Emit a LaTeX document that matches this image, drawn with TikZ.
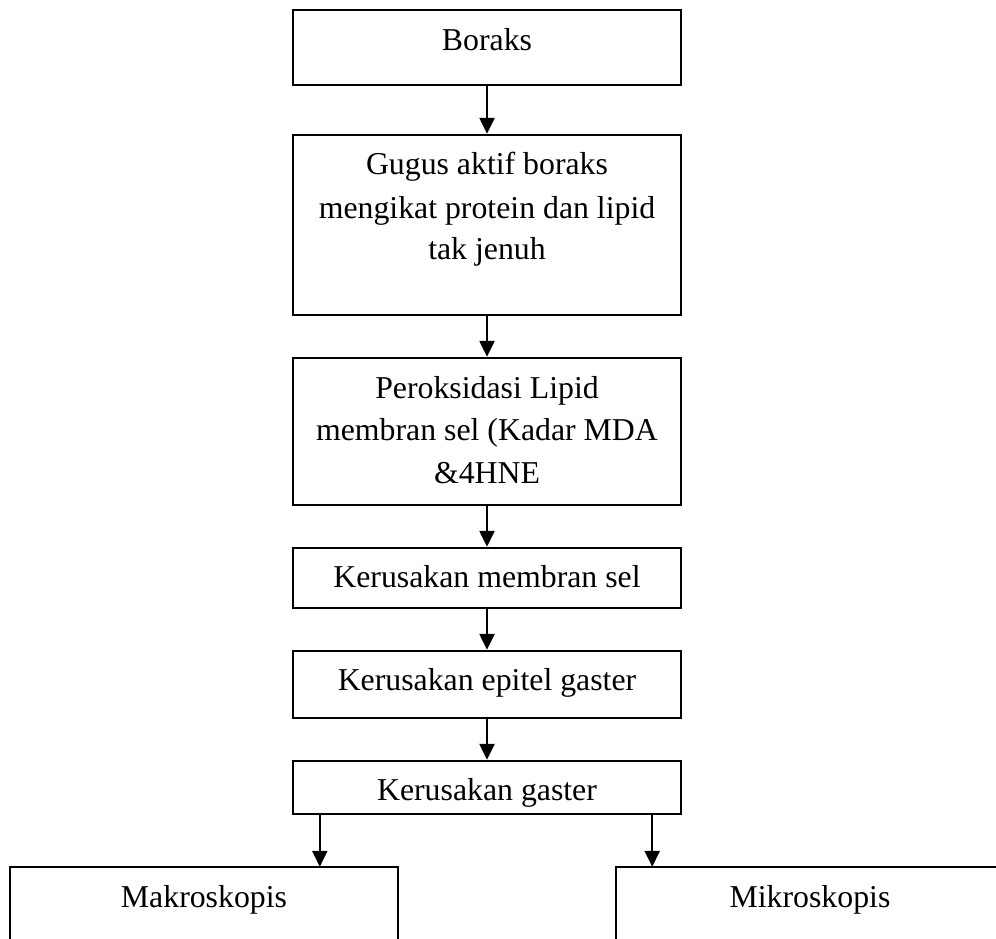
\documentclass[tikz,border=0pt]{standalone}
\usepackage{fontspec}
\setmainfont{Liberation Serif}
\usetikzlibrary{arrows.meta}
\begin{document}
\begin{tikzpicture}[x=1pt,y=-1pt,
  box/.style={draw=black, line width=2.4pt, inner sep=0pt, minimum width=388pt},
  txt/.style={font=\fontsize{31.8}{42.5}\selectfont, inner sep=0pt, align=center, anchor=base},
  arr/.style={line width=2.4pt, -{Triangle[length=16pt,width=15pt]}}]
\useasboundingbox (0,0) rectangle (996,939);
\clip (0,0) rectangle (996,939);
\node[box, minimum height=75pt] (b1) at (487,47.5) {};
\node[box, minimum height=180pt] (b2) at (487,225) {};
\node[box, minimum height=147pt] (b3) at (487,431.5) {};
\node[box, minimum height=60pt] (b4) at (487,578) {};
\node[box, minimum height=67pt] (b5) at (487,684.5) {};
\node[box, minimum height=53pt] (b6) at (487,787.5) {};
\node[inner sep=0pt, minimum width=388pt, minimum height=160pt] (L) at (204,947) {};
\node[inner sep=0pt, minimum width=388pt, minimum height=160pt] (R) at (810,947) {};
\draw[line width=2.4pt] (L.south west) -- (L.north west) -- (L.north east) -- (L.south east);
\draw[line width=2.4pt] (R.south west) -- (R.north west) -- (R.north east) -- (R.south east);
\node[txt] (t1) at (487,51) {Boraks};
\node[txt] (t2a) at (487,175) {Gugus aktif boraks};
\node[txt] (t2b) at (487,218) {mengikat protein dan lipid};
\node[txt] (t2c) at (487,259) {tak jenuh};
\node[txt] (t3a) at (487,398) {Peroksidasi Lipid};
\node[txt] (t3b) at (487,440) {membran sel (Kadar MDA};
\node[txt] (t3c) at (487,483) {\&4HNE};
\node[txt] (t4) at (487,587) {Kerusakan membran sel};
\node[txt] (t5) at (487,690) {Kerusakan epitel gaster};
\node[txt] (t6) at (487,800) {Kerusakan gaster};
\node[txt] (tL) at (204,907) {Makroskopis};
\node[txt] (tR) at (810,907) {Mikroskopis};
\draw[arr] (b1.south) -- (b2.north);
\draw[arr] (b2.south) -- (b3.north);
\draw[arr] (b3.south) -- (b4.north);
\draw[arr] (b4.south) -- (b5.north);
\draw[arr] (b5.south) -- (b6.north);
\draw[arr] ([xshift=28pt]b6.south west) -- ([xshift=28pt]b6.south west |- L.north);
\draw[arr] ([xshift=-30pt]b6.south east) -- ([xshift=-30pt]b6.south east |- R.north);
\end{tikzpicture}
\end{document}
